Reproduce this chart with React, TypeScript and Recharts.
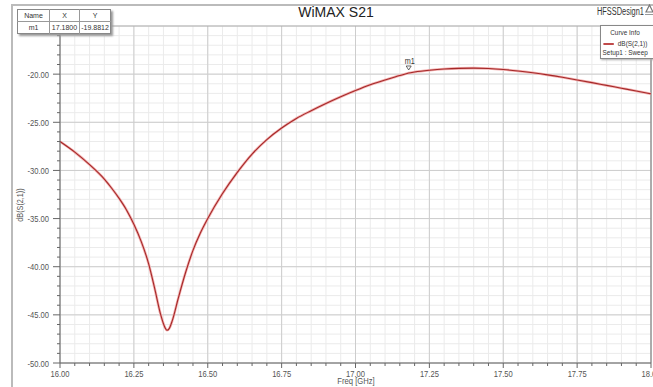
import React from 'react';
import {
  ComposedChart,
  Line,
  XAxis,
  YAxis,
  CartesianGrid,
  ReferenceLine,
  ReferenceDot,
} from 'recharts';

// WiMAX S21 sweep
const freq = [
  16.0, 16.05, 16.1, 16.15, 16.175, 16.2, 16.225, 16.25, 16.275, 16.3, 16.32, 16.34, 16.355,
  16.362, 16.37, 16.38, 16.4, 16.425, 16.45, 16.475, 16.5, 16.55, 16.6, 16.65, 16.7, 16.75,
  16.8, 16.85, 16.9, 16.95, 17.0, 17.05, 17.1, 17.15, 17.18, 17.2, 17.25, 17.3, 17.35, 17.4,
  17.45, 17.5, 17.55, 17.6, 17.65, 17.7, 17.75, 17.8, 17.85, 17.9, 17.95, 18.0,
];
const s21 = [
  -27.0, -28.1, -29.4, -30.9, -31.85, -32.9, -34.1, -35.6, -37.4, -39.7, -42.2, -44.9, -46.3,
  -46.6, -46.4, -45.6, -43.3, -40.6, -38.3, -36.5, -35.0, -32.4, -30.2, -28.3, -26.8, -25.6,
  -24.6, -23.8, -23.05, -22.35, -21.7, -21.1, -20.6, -20.15, -19.88, -19.78, -19.6, -19.47,
  -19.4, -19.38, -19.42, -19.52, -19.67, -19.86, -20.08, -20.33, -20.6, -20.88, -21.17,
  -21.46, -21.75, -22.05,
];

const majorFreqTicks = [16, 16.25, 16.5, 16.75, 17, 17.25, 17.5, 17.75, 18];
const freqLabels = ['16.00', '16.25', '16.50', '16.75', '17.00', '17.25', '17.50', '17.75', '18.00'];
const majorDbTicks = [-50, -45, -40, -35, -30, -25, -20];
const dbLabels = ['-50.00', '-45.00', '-40.00', '-35.00', '-30.00', '-25.00', '-20.00'];

const markerName = 'm1';
const markerX = 17.18;
const markerY = -19.8812;

const minorFreqTicks = Array.from({ length: 41 }, (_, i) => Math.round((16 + i * 0.05) * 100) / 100);
const minorDbTicks = Array.from({ length: 35 }, (_, i) => -50 + i);

const data = freq.map((f, i) => ({ f, s21: s21[i] }));

const FONT = '"Liberation Sans", Arial, sans-serif';
const GREY = '#555';
const NARROW = 0.8;

const XTick = (props: any) => {
  const { x, y, payload } = props;
  const idx = majorFreqTicks.findIndex((t) => Math.abs(t - payload.value) < 1e-6);
  const major = idx >= 0;
  return (
    <g>
      <line x1={x} x2={x} y1={y} y2={y + (major ? 5 : 3)} stroke="#666" strokeWidth={1} />
      {major && (
        <text
          transform={`translate(${x},${y + 14}) scale(${NARROW},1)`}
          textAnchor="middle"
          fontSize={9.5}
          fill={GREY}
          fontFamily={FONT}
        >
          {freqLabels[idx]}
        </text>
      )}
    </g>
  );
};

const YTick = (props: any) => {
  const { x, y, payload } = props;
  const idx = majorDbTicks.indexOf(payload.value);
  const major = idx >= 0;
  return (
    <g>
      <line x1={x - (major ? 7 : 3)} x2={x} y1={y} y2={y} stroke="#666" strokeWidth={1} />
      {major && (
        <text
          transform={`translate(${x - 11},${y + 3.5}) scale(${NARROW},1)`}
          textAnchor="end"
          fontSize={9.5}
          fill={GREY}
          fontFamily={FONT}
        >
          {dbLabels[idx]}
        </text>
      )}
    </g>
  );
};

const MarkerShape = (props: any) => {
  const { cx, cy } = props;
  if (cx == null || cy == null) return null;
  return (
    <g>
      <path d={`M${cx - 2.5},${cy - 7} L${cx + 2.5},${cy - 7} L${cx},${cy - 3} Z`} fill="none" stroke="#444" strokeWidth={0.8} />
      <text transform={`translate(${cx + 1},${cy - 9}) scale(0.85,1)`} textAnchor="middle" fontSize={8.5} fill="#333" fontFamily={FONT}>
        {markerName}
      </text>
    </g>
  );
};

const cell: React.CSSProperties = {
  borderRight: '1px solid #999',
  textAlign: 'center',
  padding: 0,
  height: 11,
  lineHeight: '11px',
  whiteSpace: 'nowrap',
  overflow: 'hidden',
};

export default function App() {
  return (
    <div
      style={{
        position: 'absolute',
        left: 0,
        top: 0,
        width: 653,
        height: 387,
        background: '#fff',
        overflow: 'hidden',
        fontFamily: FONT,
      }}
    >
      {/* outer frame */}
      <div style={{ position: 'absolute', left: 11, top: 4, width: 650, height: 400, borderLeft: '2px solid #bbb', borderTop: '2px solid #bbb' }} />

      <ComposedChart
        width={653}
        height={387}
        data={data}
        margin={{ top: 26, right: 2, bottom: 0, left: 10 }}
        style={{ position: 'absolute', left: 0, top: 0 }}
      >
        <CartesianGrid stroke="#ebebeb" strokeWidth={1} />
        {majorFreqTicks.map((t) => (
          <ReferenceLine key={`vx${t}`} x={t} stroke="#cdcdcd" strokeWidth={1} />
        ))}
        {majorDbTicks.map((t) => (
          <ReferenceLine key={`hy${t}`} y={t} stroke="#cdcdcd" strokeWidth={1} />
        ))}
        <XAxis
          dataKey="f"
          type="number"
          domain={[16, 18]}
          ticks={minorFreqTicks}
          interval={0}
          tick={<XTick />}
          tickLine={false}
          tickSize={0}
          tickMargin={0}
          height={24}
          stroke="#666"
          allowDataOverflow
        />
        <YAxis
          type="number"
          domain={[-50, -15]}
          ticks={minorDbTicks}
          interval={0}
          tick={<YTick />}
          tickLine={false}
          tickSize={0}
          tickMargin={0}
          width={50}
          stroke="#666"
          allowDataOverflow
        />
        <ReferenceLine x={18} stroke="#777" strokeWidth={1} />
        <ReferenceLine y={-15} stroke="#aaa" strokeWidth={1} />
        <Line type="monotone" dataKey="s21" stroke="#f3b0b0" strokeWidth={2.6} dot={false} isAnimationActive={false} />
        <Line type="monotone" dataKey="s21" stroke="#a42828" strokeWidth={1.1} dot={false} isAnimationActive={false} />
        <ReferenceDot x={markerX} y={markerY} shape={<MarkerShape />} />
      </ComposedChart>

      {/* title */}
      <div style={{ position: 'absolute', left: 236, top: 4, width: 200, textAlign: 'center', fontSize: 14, color: '#222' }}>
        WiMAX S21
      </div>
      <div style={{ position: 'absolute', left: 597, top: 6, fontSize: 10, color: '#333', transform: 'scaleX(0.74)', transformOrigin: 'left top', whiteSpace: 'nowrap' }}>
        HFSSDesign1
      </div>
      {/* small product logo */}
      <svg style={{ position: 'absolute', left: 645, top: 4 }} width={9} height={12}>
        <path d="M4.5,1 L8,8 L1,8 Z" fill="none" stroke="#777" strokeWidth={1.2} />
        <line x1={0} x2={9} y1={10.5} y2={10.5} stroke="#999" strokeWidth={1} />
      </svg>

      {/* axis titles */}
      <div
        style={{
          position: 'absolute',
          left: 20,
          top: 205,
          fontSize: 8.5,
          color: GREY,
          transform: 'translate(-50%, -50%) rotate(-90deg) scaleX(0.85)',
          whiteSpace: 'nowrap',
        }}
      >
        dB(S(2,1))
      </div>
      <div
        style={{
          position: 'absolute',
          left: 316,
          top: 376,
          width: 80,
          textAlign: 'center',
          fontSize: 9,
          lineHeight: '10px',
          color: GREY,
          transform: 'scaleX(0.85)',
        }}
      >
        Freq [GHz]
      </div>

      {/* marker table */}
      <table
        style={{
          position: 'absolute',
          left: 17,
          top: 9,
          borderCollapse: 'collapse',
          tableLayout: 'fixed',
          width: 90,
          fontSize: 7,
          color: '#333',
          background: '#fff',
          border: '1px solid #888',
          boxShadow: '2px 2px 2px #999',
        }}
      >
        <tbody>
          <tr style={{ borderBottom: '1px solid #999' }}>
            <td style={{ ...cell, width: 31 }}>Name</td>
            <td style={{ ...cell, width: 29 }}>X</td>
            <td style={{ ...cell, width: 30, borderRight: 'none' }}>Y</td>
          </tr>
          <tr>
            <td style={cell}>{markerName}</td>
            <td style={cell}>{markerX.toFixed(4)}</td>
            <td style={{ ...cell, borderRight: 'none' }}>{markerY.toFixed(4)}</td>
          </tr>
        </tbody>
      </table>

      {/* curve info */}
      <div
        style={{
          position: 'absolute',
          left: 600,
          top: 25,
          width: 56,
          height: 32,
          background: '#fff',
          border: '1px solid #888',
          boxShadow: '1px 1px 2px #aaa',
          fontSize: 8,
          color: '#333',
        }}
      >
        <div style={{ transform: 'scaleX(0.8)', transformOrigin: 'left top', width: 66, whiteSpace: 'nowrap' }}>
          <div style={{ textAlign: 'center', lineHeight: '12px', marginTop: 1, width: 60 }}>Curve Info</div>
          <div style={{ display: 'flex', alignItems: 'center', lineHeight: '9px', marginLeft: 3 }}>
            <span style={{ display: 'inline-block', width: 13, height: 2, background: '#c04a4a', marginRight: 5 }} />
            dB(S(2,1))
          </div>
          <div style={{ lineHeight: '9px', marginLeft: 2 }}>Setup1 : Sweep</div>
        </div>
      </div>
    </div>
  );
}
